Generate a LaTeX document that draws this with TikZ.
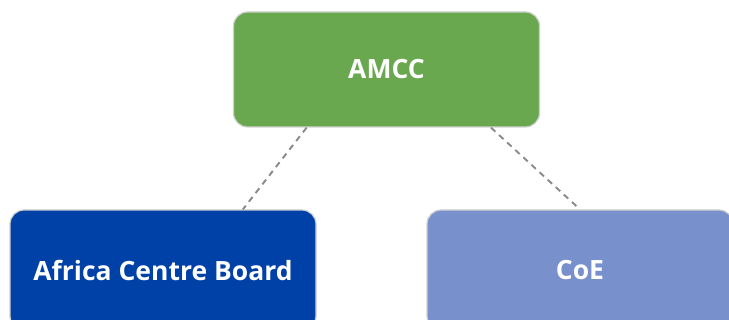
\documentclass[tikz,border=0pt]{standalone}
\usepackage{fontspec}
\setmainfont{Open Sans}
\usetikzlibrary{calc}
\definecolor{amccgreen}{HTML}{6AA84F}
\definecolor{boardblue}{HTML}{0041A8}
\definecolor{coeblue}{HTML}{7891CC}
\definecolor{boxline}{HTML}{D0D0D0}
\definecolor{linkgray}{HTML}{8A8A8A}

\begin{document}
\begin{tikzpicture}[x=1pt, y=-1pt, every node/.style = {shape=rectangle, rounded corners=14pt, draw=boxline, line width=1.2pt, align=center, text=white, font=\fontsize{26.5}{30}\selectfont\bfseries, minimum width=306pt, minimum height=115pt, inner sep=0pt}, link/.style = {draw=linkgray, line width=1.9pt, dash pattern=on 6pt off 5pt}]
\useasboundingbox (0,0) rectangle (729,320);
\node[fill=amccgreen] (amcc) at (386.5,69.5) {AMCC};
\node[fill=boardblue, minimum height=120pt] (board) at (163,270) {Africa Centre Board};
\node[fill=coeblue, minimum height=120pt] (coe) at (580,270) {CoE};
\draw[link] ($(amcc.south west)!0.24!(amcc.south east)$) -- ($(board.north west)!0.76!(board.north east)$);
\draw[link] ($(amcc.south west)!0.84!(amcc.south east)$) -- (coe.north);
\end{tikzpicture}
\end{document}
